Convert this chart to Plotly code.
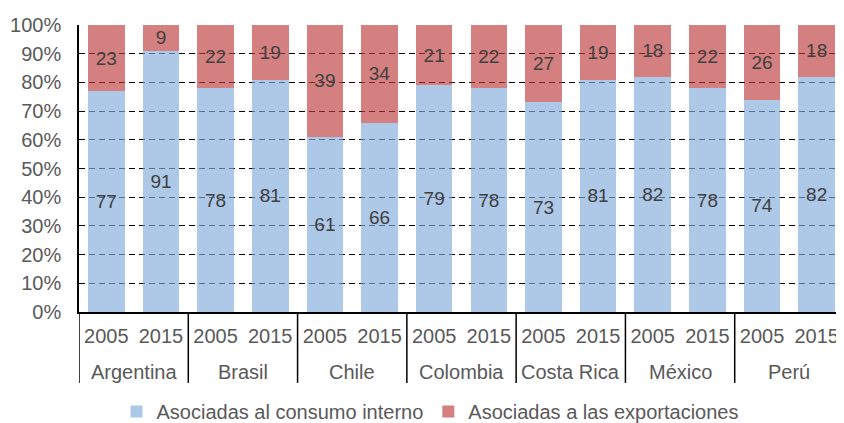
import plotly.graph_objects as go

country_names = ["Argentina", "Brasil", "Chile", "Colombia", "Costa Rica", "México", "Perú"]
years = ["2005", "2015"] * 7
interno = [77, 91, 78, 81, 61, 66, 79, 78, 73, 81, 82, 78, 74, 82]
exportaciones = [23, 9, 22, 19, 39, 34, 21, 22, 27, 19, 18, 22, 26, 18]

xpos = list(range(len(years)))
FONT = "Liberation Sans, Arial"

fig = go.Figure()
fig.add_trace(go.Bar(
    x=xpos, y=interno, name="Asociadas al consumo interno",
    marker=dict(color="rgba(131,171,220,0.65)", line=dict(width=0)),
    text=interno, textposition="inside", insidetextanchor="middle",
    textangle=0, constraintext="none",
    textfont=dict(color="#404040", size=19, family=FONT),
))
fig.add_trace(go.Bar(
    x=xpos, y=exportaciones, name="Asociadas a las exportaciones",
    marker=dict(color="rgba(189,60,60,0.65)", line=dict(width=0)),
    text=exportaciones, textposition="inside", insidetextanchor="middle",
    textangle=0, constraintext="none",
    textfont=dict(color="#404040", size=19, family=FONT),
))

# country group labels and dividers
for i, c in enumerate(country_names):
    fig.add_annotation(x=2 * i + 0.5, y=-0.209, xref="x", yref="paper",
                       text=c, showarrow=False, yanchor="middle",
                       font=dict(size=20, color="#595959", family=FONT))
for i in range(len(country_names)):
    fig.add_shape(type="line", xref="x", yref="paper",
                  x0=2 * i - 0.5, x1=2 * i - 0.5, y0=0, y1=-0.247,
                  line=dict(color="black", width=1.5))

fig.update_layout(
    barmode="stack", bargap=0.33,
    width=844, height=423,
    margin=dict(l=71, r=8, t=17, b=119),
    plot_bgcolor="white", paper_bgcolor="white",
    font=dict(family=FONT, color="#595959", size=20),
    uniformtext=dict(mode="show", minsize=19),
    showlegend=True,
    legend=dict(orientation="h", xref="container", yref="container",
                x=0.5, xanchor="center", y=0.0, yanchor="bottom",
                font=dict(size=20, color="#595959", family=FONT),
                traceorder="normal", itemwidth=30),
)
fig.update_yaxes(range=[0, 100], dtick=10, ticksuffix="%", showgrid=True,
                 gridcolor="black", griddash="6px,4px", gridwidth=1,
                 showline=True, linecolor="black", linewidth=1.5,
                 ticks="", automargin=False, fixedrange=True,
                 ticklabelstandoff=12, zeroline=False,
                 tickfont=dict(size=20, color="#595959"))
fig.update_xaxes(range=[-0.5, 13.5], tickmode="array", tickvals=xpos, ticktext=years,
                 showline=True, linecolor="black", linewidth=1.5, showgrid=False,
                 zeroline=False, tickfont=dict(size=20, color="#595959"),
                 automargin=False, ticks="", ticklabelstandoff=5)

fig.write_html("out.html")
